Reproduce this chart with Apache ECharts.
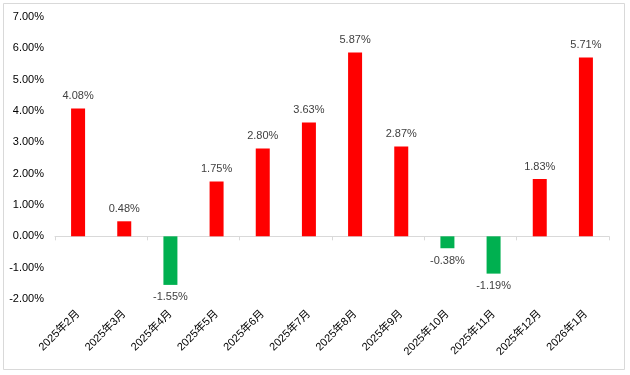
<!DOCTYPE html>
<html>
<head>
<meta charset="utf-8">
<script src="https://cdn.jsdelivr.net/npm/echarts@6/dist/echarts.min.js"></script>
<style>
  html, body {margin: 0; padding: 0; background: #fff;}
  #chart {width: 630px; height: 375px;}
</style>
</head>
<body>
<div id="chart"></div>
<script>
var months = ['2025年2月', '2025年3月', '2025年4月', '2025年5月', '2025年6月', '2025年7月',
  '2025年8月', '2025年9月', '2025年10月', '2025年11月', '2025年12月', '2026年1月'];
var returns = [4.08, 0.48, -1.55, 1.75, 2.80, 3.63, 5.87, 2.87, -0.38, -1.19, 1.83, 5.71];

var font = "'Liberation Sans', 'Noto Sans CJK SC', sans-serif";

var chart = echarts.init(document.getElementById('chart'));

// red up, green down
var barData = returns.map(function (v) {
  return {
    value: v,
    itemStyle: {color: v >= 0 ? '#ff0000' : '#00b050'},
    label: {position: v >= 0 ? 'top' : 'bottom'}
  };
});

chart.setOption({
  animation: false,
  backgroundColor: '#fff',
  textStyle: {fontFamily: font},
  graphic: [{
    type: 'rect',
    shape: {x: 3.5, y: 3.5, width: 621, height: 366},
    style: {fill: 'none', stroke: '#d9d9d9', lineWidth: 1},
    silent: true
  }],
  grid: {left: 55, right: 21, top: 17, bottom: 76},
  xAxis: [
    {
      type: 'category',
      data: months,
      position: 'bottom',
      axisLine: {onZero: true, lineStyle: {color: '#d9d9d9'}},
      axisTick: {show: true, length: 4, lineStyle: {color: '#d9d9d9'}},
      axisLabel: {show: false},
      splitLine: {show: false}
    },
    {
      type: 'category',
      data: months,
      position: 'bottom',
      axisLine: {show: false, onZero: false},
      axisTick: {show: false},
      axisLabel: {rotate: 45, margin: 13, fontSize: 11, color: '#000', interval: 0, fontFamily: font},
      splitLine: {show: false}
    }
  ],
  yAxis: {
    type: 'value',
    min: -2,
    max: 7,
    interval: 1,
    axisLine: {show: false},
    axisTick: {show: false},
    splitLine: {show: false},
    axisLabel: {
      fontSize: 11,
      color: '#000',
      margin: 11,
      fontFamily: font,
      formatter: function (v) { return v.toFixed(2) + '%'; }
    }
  },
  series: [{
    type: 'bar',
    xAxisIndex: 0,
    data: barData,
    barWidth: 14,
    label: {
      show: true,
      distance: 7,
      fontSize: 11,
      color: '#404040',
      fontFamily: font,
      formatter: function (p) { return p.value.toFixed(2) + '%'; }
    }
  }]
});
</script>
</body>
</html>
